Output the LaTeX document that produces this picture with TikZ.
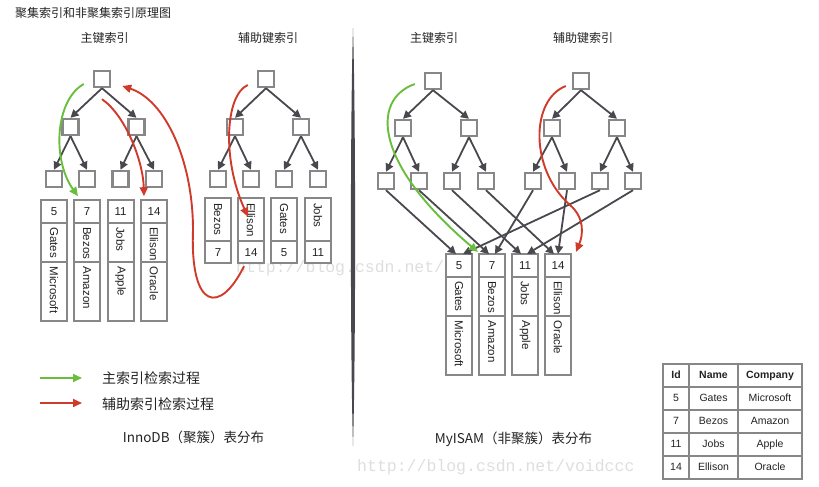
\documentclass[tikz,border=0pt]{standalone}
\usepackage{fontspec}
\usepackage{graphicx}
\setmainfont{Liberation Sans}
\newfontfamily\cjk{Noto Sans CJK SC}
\newfontfamily\wmfont{Liberation Mono}
\usetikzlibrary{
	arrows.meta,positioning,calc
}
\definecolor{boxgray}{RGB}{135,135,135}
\definecolor{linegray}{RGB}{72,72,78}
\definecolor{textdark}{RGB}{35,35,35}
\definecolor{pkgreen}{RGB}{106,190,62}
\definecolor{skred}{RGB}{208,58,42}
\definecolor{markgray}{RGB}{222,222,222}
% rotated text, top aligned in its cell
\newcommand{\vtxt}[2]{\rotatebox{-90}{\makebox[#1][l]{#2}}}
\tikzset{
	treebox/.style={
		rectangle, minimum size=16pt, inner sep=0pt,
		line width=2.4pt, draw=boxgray, fill=white
	},
	%
	treelink/.style={
		draw=linegray, line width=1.8pt, -{Triangle[length=8pt,width=8pt]}
	},
	%
	cell/.style={
		rectangle, minimum width=26pt, inner sep=0pt, outer sep=0pt,
		line width=2pt, draw=boxgray, fill=white, text=textdark,
		font=\fontsize{11.5}{13}\selectfont
	},
	idcell/.style={cell, minimum height=23pt},
	namecell/.style={cell, minimum height=39pt},
	cocell/.style={cell, minimum height=59pt},
	snamecell/.style={cell, minimum height=43pt},
	sidcell/.style={cell, minimum height=22pt},
	%
	tcell/.style={
		rectangle, minimum height=23pt, inner sep=0pt, outer sep=0pt,
		text height=8pt, text depth=2pt,
		line width=1.8pt, draw=boxgray, fill=white, text=textdark,
		font=\fontsize{10.5}{12}\selectfont
	},
	thcell/.style={tcell, font=\fontsize{10.5}{12}\selectfont\bfseries},
	%
	pkpath/.style={draw=pkgreen, line width=1.9pt, -{Triangle[length=9pt,width=8pt]}},
	skpath/.style={draw=skred, line width=1.9pt, -{Triangle[length=9pt,width=8pt]}},
	%
	headtext/.style={inner sep=0pt, text=textdark, font=\cjk\fontsize{12}{14}\selectfont},
	legendtext/.style={inner sep=0pt, text=textdark, font=\cjk\fontsize{14}{16}\selectfont},
	captext/.style={inner sep=0pt, text=textdark, font=\cjk\fontsize{13.5}{16}\selectfont},
	wmtext/.style={inner sep=0pt, text=markgray, font=\wmfont\fontsize{16.5}{18}\selectfont}
}

\begin{document}
\begin{tikzpicture}[x=1pt,y=-1pt]
    \useasboundingbox (0,0) rectangle (819,487);
    \node(title)[headtext, anchor=west] at (15,13){聚集索引和非聚集索引原理图};
    \node(wmarkmid)[wmtext, anchor=west] at (236,268){http://blog.csdn.net/};
    \node(wmark)[wmtext, anchor=west] at (357,467){http://blog.csdn.net/voidccc};
    % InnoDB: primary key tree
    \node(ipkhead)[headtext] at (104.5,38){主键索引};
    \node(pr)[treebox] at (102,79){};
    \node(pa)[treebox] at (70.5,127){};
    \node(pb)[treebox] at (136.5,127){};
    \node(p1)[treebox] at (54,179){};
    \node(p2)[treebox] at (87,179){};
    \node(p3)[treebox] at (120.5,179){};
    \node(p4)[treebox] at (154,179){};
    \draw[treelink] (pr.south) -- (pa.north);
    \draw[treelink] (pr.south) -- (pb.north);
    \draw[treelink] (pa.south) -- (p1.north);
    \draw[treelink] (pa.south) -- (p2.north);
    \draw[treelink] (pb.south) -- (p3.north);
    \draw[treelink] (pb.south) -- (p4.north);
    \node(i5id)[idcell, below=12pt of p1]{5};
    \node(i5nm)[namecell, below=0pt of i5id]{\vtxt{31pt}{Gates}};
    \node(i5co)[cocell, below=0pt of i5nm]{\vtxt{50pt}{Microsoft}};
    \node(i7id)[idcell, below=12pt of p2]{7};
    \node(i7nm)[namecell, below=0pt of i7id]{\vtxt{31pt}{Bezos}};
    \node(i7co)[cocell, below=0pt of i7nm]{\vtxt{50pt}{Amazon}};
    \node(i11id)[idcell, below=12pt of p3]{11};
    \node(i11nm)[namecell, below=0pt of i11id]{\vtxt{31pt}{Jobs}};
    \node(i11co)[cocell, below=0pt of i11nm]{\vtxt{50pt}{Apple}};
    \node(i14id)[idcell, below=12pt of p4]{14};
    \node(i14nm)[namecell, below=0pt of i14id]{\vtxt{31pt}{Ellison}};
    \node(i14co)[cocell, below=0pt of i14nm]{\vtxt{50pt}{Oracle}};
    % InnoDB: secondary key tree
    \node(iskhead)[headtext] at (268,38){辅助键索引};
    \node(sr)[treebox] at (266,79){};
    \node(sa)[treebox] at (235,127){};
    \node(sb)[treebox] at (301,127){};
    \node(s1)[treebox] at (218,179){};
    \node(s2)[treebox] at (251,179){};
    \node(s3)[treebox] at (284,179){};
    \node(s4)[treebox] at (318,179){};
    \draw[treelink] (sr.south) -- (sa.north);
    \draw[treelink] (sr.south) -- (sb.north);
    \draw[treelink] (sa.south) -- (s1.north);
    \draw[treelink] (sa.south) -- (s2.north);
    \draw[treelink] (sb.south) -- (s3.north);
    \draw[treelink] (sb.south) -- (s4.north);
    \node(s7nm)[snamecell, below=10pt of s1]{\vtxt{33pt}{Bezos}};
    \node(s7id)[sidcell, below=0pt of s7nm]{7};
    \node(s14nm)[snamecell, below=10pt of s2]{\vtxt{33pt}{Ellison}};
    \node(s14id)[sidcell, below=0pt of s14nm]{14};
    \node(s5nm)[snamecell, below=10pt of s3]{\vtxt{33pt}{Gates}};
    \node(s5id)[sidcell, below=0pt of s5nm]{5};
    \node(s11nm)[snamecell, below=10pt of s4]{\vtxt{33pt}{Jobs}};
    \node(s11id)[sidcell, below=0pt of s11nm]{11};
    % InnoDB search paths
    \draw[pkpath] ([xshift=-9pt,yshift=-5pt]pr.west) .. controls (55,100) and (52,160) .. ([xshift=-9pt,yshift=4pt]i7id.north);
    \draw[skpath] ([yshift=-11pt]pr.south) .. controls (125,115) and (143,160) .. ([xshift=-10pt,yshift=4pt]i14id.north);
    \draw[skpath] ([xshift=-9pt,yshift=-6pt]sr.west) .. controls (225,95) and (222,160) .. ([xshift=-3pt,yshift=3pt]s14nm.center);
    \draw[skpath] ([xshift=-7pt,yshift=-3pt]s14id.south) .. controls (220,315) and (190,310) .. (193,230) .. controls (193,160) and (165,100) .. ([xshift=11pt,yshift=-7pt]pr.east);
    % legend
    \node(lgreen)[legendtext, anchor=west] at (102,378){主索引检索过程};
    \node(lred)[legendtext, anchor=west] at (102,404){辅助索引检索过程};
    \draw[pkpath] ([xshift=-62pt]lgreen.west) -- ([xshift=-20pt]lgreen.west);
    \draw[skpath] ([xshift=-62pt,yshift=1pt]lred.west) -- ([xshift=-20pt,yshift=1pt]lred.west);
    \node(icap)[captext] at (193.5,437.5){InnoDB（聚簇）表分布};
    % divider
    \fill[linegray] (353,28) .. controls (355.8,120) and (355.8,350) .. (353,446) .. controls (350.2,350) and (350.2,120) .. (353,28) -- cycle;
    % MyISAM: primary key tree
    \node(mpkhead)[headtext] at (434,38){主键索引};
    \node(mpr)[treebox] at (433,81){};
    \node(mpa)[treebox] at (403,128){};
    \node(mpb)[treebox] at (469,128){};
    \node(mp1)[treebox] at (386,181){};
    \node(mp2)[treebox] at (419,181){};
    \node(mp3)[treebox] at (452,181){};
    \node(mp4)[treebox] at (486,181){};
    \draw[treelink] (mpr.south) -- (mpa.north);
    \draw[treelink] (mpr.south) -- (mpb.north);
    \draw[treelink] (mpa.south) -- (mp1.north);
    \draw[treelink] (mpa.south) -- (mp2.north);
    \draw[treelink] (mpb.south) -- (mp3.north);
    \draw[treelink] (mpb.south) -- (mp4.north);
    % MyISAM: secondary key tree
    \node(mskhead)[headtext] at (583,38){辅助键索引};
    \node(msr)[treebox] at (581,81){};
    \node(msa)[treebox] at (552,128){};
    \node(msb)[treebox] at (617,128){};
    \node(ms1)[treebox] at (533,181){};
    \node(ms2)[treebox] at (567,181){};
    \node(ms3)[treebox] at (600,181){};
    \node(ms4)[treebox] at (633,181){};
    \draw[treelink] (msr.south) -- (msa.north);
    \draw[treelink] (msr.south) -- (msb.north);
    \draw[treelink] (msa.south) -- (ms1.north);
    \draw[treelink] (msa.south) -- (ms2.north);
    \draw[treelink] (msb.south) -- (ms3.north);
    \draw[treelink] (msb.south) -- (ms4.north);
    % MyISAM: data rows
    \node(m5id)[idcell] at (459,265.5){5};
    \node(m5nm)[namecell, below=0pt of m5id]{\vtxt{31pt}{Gates}};
    \node(m5co)[cocell, below=0pt of m5nm]{\vtxt{50pt}{Microsoft}};
    \node(m7id)[idcell, right=7pt of m5id]{7};
    \node(m7nm)[namecell, below=0pt of m7id]{\vtxt{31pt}{Bezos}};
    \node(m7co)[cocell, below=0pt of m7nm]{\vtxt{50pt}{Amazon}};
    \node(m11id)[idcell, right=7pt of m7id]{11};
    \node(m11nm)[namecell, below=0pt of m11id]{\vtxt{31pt}{Jobs}};
    \node(m11co)[cocell, below=0pt of m11nm]{\vtxt{50pt}{Apple}};
    \node(m14id)[idcell, right=7pt of m11id]{14};
    \node(m14nm)[namecell, below=0pt of m14id]{\vtxt{31pt}{Ellison}};
    \node(m14co)[cocell, below=0pt of m14nm]{\vtxt{50pt}{Oracle}};
    \draw[treelink] (mp1.south) -- ([xshift=-3pt]m5id.north);
    \draw[treelink] (mp2.south) -- ([xshift=-3pt]m7id.north);
    \draw[treelink] (mp3.south) -- ([xshift=-4pt]m11id.north);
    \draw[treelink] (mp4.south) -- ([xshift=-4pt]m14id.north);
    \draw[treelink] (ms1.south) -- ([xshift=3pt]m7id.north);
    \draw[treelink] (ms2.south) -- (m14id.north);
    \draw[treelink] (ms3.south) -- ([xshift=4pt]m5id.north);
    \draw[treelink] (ms4.south) -- ([xshift=2pt]m11id.north);
    % MyISAM search paths
    \draw[pkpath] ([xshift=-9pt,yshift=-3pt]mpr.west) .. controls (370,100) and (375,165) .. ([xshift=6pt,yshift=2pt]m5id.north east);
    \draw[skpath] ([xshift=-6pt,yshift=-5pt]msr.west) .. controls (530,100) and (530,170) .. (570,205) .. controls (585,218) and (583,235) .. ([xshift=5pt,yshift=2pt]m14id.north east);
    \node(mcap)[captext] at (513.5,439){MyISAM（非聚簇）表分布};
    % the table
    \node(thid)[thcell, minimum width=26pt] at (676,375.5){Id};
    \node(thnm)[thcell, minimum width=49pt, right=0pt of thid]{Name};
    \node(thco)[thcell, minimum width=64pt, right=0pt of thnm]{Company};
    \node(t5id)[tcell, minimum width=26pt, below=0pt of thid]{5};
    \node(t5nm)[tcell, minimum width=49pt, right=0pt of t5id]{Gates};
    \node(t5co)[tcell, minimum width=64pt, right=0pt of t5nm]{Microsoft};
    \node(t7id)[tcell, minimum width=26pt, below=0pt of t5id]{7};
    \node(t7nm)[tcell, minimum width=49pt, right=0pt of t7id]{Bezos};
    \node(t7co)[tcell, minimum width=64pt, right=0pt of t7nm]{Amazon};
    \node(t11id)[tcell, minimum width=26pt, below=0pt of t7id]{11};
    \node(t11nm)[tcell, minimum width=49pt, right=0pt of t11id]{Jobs};
    \node(t11co)[tcell, minimum width=64pt, right=0pt of t11nm]{Apple};
    \node(t14id)[tcell, minimum width=26pt, below=0pt of t11id]{14};
    \node(t14nm)[tcell, minimum width=49pt, right=0pt of t14id]{Ellison};
    \node(t14co)[tcell, minimum width=64pt, right=0pt of t14nm]{Oracle};
\end{tikzpicture}
\end{document}
